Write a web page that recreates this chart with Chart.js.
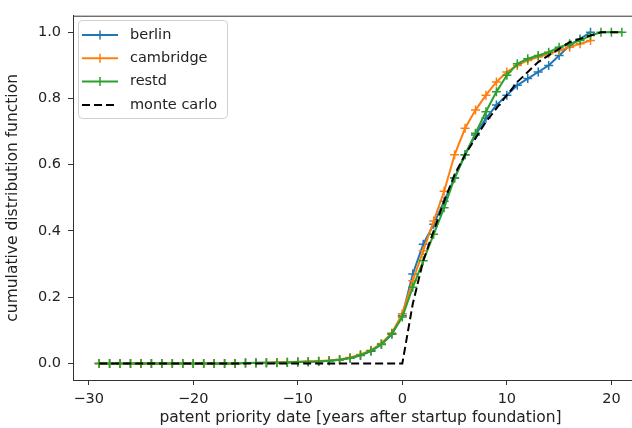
<!DOCTYPE html>
<html>
<head>
<meta charset="utf-8">
<script src="https://cdn.jsdelivr.net/npm/chart.js@4/dist/chart.umd.min.js"></script>
<style>
  html, body { margin: 0; padding: 0; background: #fff; overflow: hidden; }
  #wrap { position: relative; width: 654px; height: 428px; }
</style>
</head>
<body>
<div id="wrap"><canvas id="cdfChart" width="654" height="428"></canvas></div>
<script>
// years after startup foundation (x positions of the markers)
const years = [-29, -28, -27, -26, -25, -24, -23, -22, -21, -20, -19, -18, -17, -16, -15, -14, -13, -12, -11, -10,
               -9, -8, -7, -6, -5, -4, -3, -2, -1, 0, 1, 2, 3, 4, 5, 6, 7, 8, 9, 10,
               11, 12, 13, 14, 15, 16, 17, 18, 19, 20, 21];

const berlin = [0, 0, 0, 0, 0, 0, 0, 0, 0, 0, 0, 0, 0, 0,
                0.001, 0.002, 0.002, 0.003, 0.003, 0.004, 0.005, 0.006, 0.008, 0.011, 0.016, 0.024, 0.037, 0.057, 0.088,
                0.145, 0.27, 0.36, 0.42, 0.49, 0.56, 0.63, 0.69, 0.74, 0.78, 0.81, 0.84, 0.86, 0.88, 0.90, 0.93, 0.96, 0.98, 1.0];

const cambridge = [0, 0, 0, 0, 0, 0, 0, 0, 0, 0, 0, 0, 0, 0,
                   0.001, 0.001, 0.002, 0.003, 0.004, 0.005, 0.006, 0.007, 0.009, 0.012, 0.018, 0.027, 0.04, 0.06, 0.092,
                   0.15, 0.25, 0.34, 0.43, 0.52, 0.63, 0.71, 0.765, 0.81, 0.85, 0.88, 0.90, 0.915, 0.925, 0.935, 0.945, 0.955, 0.965, 0.975];

const restd = [0, 0, 0, 0, 0, 0, 0, 0, 0, 0, 0, 0, 0, 0,
               0.001, 0.001, 0.002, 0.002, 0.003, 0.004, 0.005, 0.006, 0.008, 0.011, 0.016, 0.025, 0.038, 0.058, 0.09,
               0.14, 0.23, 0.31, 0.39, 0.47, 0.56, 0.63, 0.695, 0.76, 0.82, 0.87, 0.905, 0.92, 0.93, 0.94, 0.955, 0.965, 0.975, 0.99,
               1.0, 1.0, 1.0];

const monteCarlo = [0, 0, 0, 0, 0, 0, 0, 0, 0, 0, 0, 0, 0, 0, 0, 0, 0, 0, 0, 0, 0, 0, 0, 0, 0, 0, 0, 0, 0, 0,
                    0.18, 0.31, 0.40, 0.49, 0.57, 0.63, 0.68, 0.73, 0.77, 0.81, 0.85, 0.88, 0.91, 0.93, 0.95, 0.97, 0.98, 0.99,
                    1.0, 1.0, 1.0];

const xTicks = [-30, -20, -10, 0, 10, 20];
const yTicks = [0.0, 0.2, 0.4, 0.6, 0.8, 1.0];

const FONT = 'DejaVu Sans';
const FS = 14.5;       // tick labels and legend
const FS_TITLE = 15.5; // axis titles

const toPoints = vals => vals.map((v, i) => ({ x: years[i], y: v }));

function series(label, vals, color, extra) {
    return Object.assign({
        label: label,
        data: toPoints(vals),
        borderColor: color,
        backgroundColor: color,
        borderWidth: 2,
        pointStyle: 'cross',
        pointRadius: 4.5,
        pointBorderWidth: 1.5,
        pointBorderColor: color,
        tension: 0
    }, extra || {});
}

// frame on all four sides, like matplotlib spines
const framePlugin = {
    id: 'frame',
    afterDraw(chart) {
        const { ctx, chartArea: a } = chart;
        ctx.save();
        ctx.strokeStyle = '#333';
        ctx.lineWidth = 1;
        ctx.strokeRect(a.left + 0.5, a.top + 0.5, a.right - a.left, a.bottom - a.top);
        ctx.restore();
    }
};

// legend box inside the upper-left corner
const legendPlugin = {
    id: 'innerLegend',
    afterDraw(chart) {
        const { ctx } = chart;
        const x0 = 78, y0 = 20, w = 149, h = 98, rowH = 23.3;
        ctx.save();
        ctx.beginPath();
        ctx.roundRect(x0 + 0.5, y0 + 0.5, w, h, 4);
        ctx.fillStyle = 'rgba(255,255,255,0.8)';
        ctx.fill();
        ctx.strokeStyle = '#d0d0d0';
        ctx.lineWidth = 1;
        ctx.stroke();

        chart.data.datasets.forEach((ds, i) => {
            const cy = y0 + 15 + i * rowH;
            ctx.strokeStyle = ds.borderColor;
            ctx.lineWidth = 2;
            ctx.setLineDash(ds.borderDash || []);
            ctx.beginPath();
            ctx.moveTo(x0 + 4, cy);
            ctx.lineTo(x0 + 40, cy);
            ctx.stroke();
            ctx.setLineDash([]);
            if (ds.pointRadius > 0) {
                ctx.lineWidth = 1.5;
                ctx.beginPath();
                ctx.moveTo(x0 + 22, cy - 4.5);
                ctx.lineTo(x0 + 22, cy + 4.5);
                ctx.stroke();
            }
            ctx.fillStyle = '#222';
            ctx.font = `${FS}px "${FONT}"`;
            ctx.textBaseline = 'middle';
            ctx.textAlign = 'left';
            ctx.fillText(ds.label, x0 + 52, cy);
        });
        ctx.restore();
    }
};

new Chart(document.getElementById('cdfChart'), {
    type: 'line',
    data: {
        datasets: [
            series('berlin', berlin, '#1f77b4', { order: 3 }),
            series('cambridge', cambridge, '#ff7f0e', { order: 2 }),
            series('restd', restd, '#2ca02c', { order: 1 }),
            series('monte carlo', monteCarlo, '#000000', { order: 0, pointRadius: 0, borderDash: [8, 4] })
        ]
    },
    options: {
        responsive: false,
        animation: false,
        layout: { padding: { top: 14, right: 1, left: 0, bottom: 0 } },
        plugins: { legend: { display: false }, tooltip: { enabled: false } },
        scales: {
            x: {
                type: 'linear',
                min: -31.5,
                max: 23.5,
                afterBuildTicks: s => { s.ticks = xTicks.map(v => ({ value: v })); },
                afterFit: s => { s.height = 48; },
                grid: { display: true, drawOnChartArea: false, drawTicks: true, tickLength: 5, tickColor: '#333' },
                border: { display: true, color: '#333' },
                ticks: {
                    color: '#222',
                    padding: 6,
                    maxRotation: 0,
                    font: { family: FONT, size: FS },
                    callback: v => (v < 0 ? '\u2212' + Math.abs(v) : String(v))
                },
                title: {
                    display: true,
                    text: 'patent priority date [years after startup foundation]',
                    color: '#222',
                    font: { family: FONT, size: FS_TITLE },
                    padding: { top: 0, bottom: 1 }
                }
            },
            y: {
                type: 'linear',
                min: -0.05,
                max: 1.05,
                afterBuildTicks: s => { s.ticks = yTicks.map(v => ({ value: v })); },
                afterFit: s => { s.width = 73; },
                grid: { display: true, drawOnChartArea: false, drawTicks: true, tickLength: 5, tickColor: '#333' },
                border: { display: true, color: '#333' },
                ticks: {
                    color: '#222',
                    padding: 7,
                    font: { family: FONT, size: FS },
                    callback: v => v.toFixed(1)
                },
                title: {
                    display: true,
                    text: 'cumulative distribution function',
                    color: '#222',
                    font: { family: FONT, size: FS_TITLE },
                    padding: { top: 4, bottom: 0 }
                }
            }
        }
    },
    plugins: [framePlugin, legendPlugin]
});
</script>
</body>
</html>
